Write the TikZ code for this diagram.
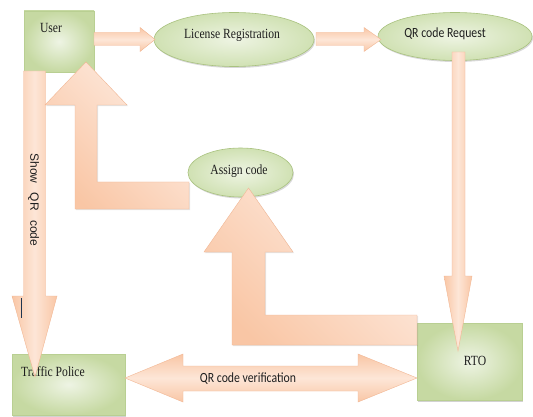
\documentclass[tikz,border=0pt]{standalone}
\usepackage{fontspec}
\setmainfont{Liberation Serif}
\newfontfamily\tnrfont[FakeStretch=0.83]{Liberation Serif}
\newfontfamily\calfont[FakeStretch=0.84]{Carlito}
\newfontfamily\arsfont{Liberation Sans}
\usetikzlibrary{shapes.geometric,shadows}
\definecolor{peach}{HTML}{F9C6A5}
\definecolor{peachl}{HTML}{FDE6D7}
\definecolor{peachxl}{HTML}{FEEDE3}
\definecolor{peachd}{HTML}{F2B794}
\definecolor{grn}{HTML}{C6D9A2}
\definecolor{grnl}{HTML}{EEF4E4}
\definecolor{grnline}{HTML}{B9CF92}
\definecolor{ell}{HTML}{D0E1B3}
\definecolor{elll}{HTML}{EEF4E3}
\definecolor{ellline}{HTML}{A9C27F}
\definecolor{txt}{HTML}{1E1E1E}
\definecolor{navy}{HTML}{1F3550}
\tikzset{
  greenbox/.style={rectangle, draw=grnline, line width=0.5pt, inner sep=0pt,
    inner color=grnl, outer color=grn,
    drop shadow={shadow xshift=1.2pt, shadow yshift=-1.5pt, opacity=0.35}},
  ellip/.style={ellipse, draw=ellline, line width=0.6pt, inner sep=0pt,
    inner color=elll, outer color=ell,
    drop shadow={shadow xshift=1pt, shadow yshift=-1.5pt, opacity=0.3}},
  barr/.style={draw=peachd, line width=0.4pt, top color=peachxl, bottom color=peach, shading angle=-45,
    drop shadow={shadow xshift=1pt, shadow yshift=-1.2pt, opacity=0.2}},
  varr/.style={draw=peachd, line width=0.4pt, left color=peach, right color=peach, middle color=peachl},
  harr/.style={draw=peachd, line width=0.4pt, top color=peach, bottom color=peach, middle color=peachl},
  serif/.style={font=\tnrfont\fontsize{14}{16}\selectfont, text=txt, inner sep=0pt},
  sans/.style={font=\calfont\fontsize{14}{16}\selectfont, text=txt, inner sep=0pt},
}
\begin{document}
\begin{tikzpicture}[x=1pt,y=-1pt]
\useasboundingbox (0,0) rectangle (533,417);
\fill[white] (0,0) rectangle (533,417);

% nodes
\node[greenbox, minimum width=70pt, minimum height=61pt] (user) at (59,41.5) {};
\node[greenbox, minimum width=113pt, minimum height=61pt] (tp) at (68.5,384.5) {};
\node[greenbox, minimum width=105pt, minimum height=77pt] (rto) at (469.5,361.5) {};
\node[ellip, minimum width=160pt, minimum height=54pt] (lr) at (234,39.5) {};
\node[ellip, minimum width=154pt, minimum height=48pt] (qr) at (455,36.5) {};
\node[ellip, minimum width=105pt, minimum height=49pt] (assign) at (240.5,172.5) {};

% labels
\node[serif] (usert) at (51,28) {User};
\node[serif] (tpt) at (53,372) {Traffic Police};
\node[serif] (rtot) at (475,361) {RTO};
\node[serif] (lrt) at (232,35) {License Registration};
\node[sans] (qrt) at (445,34) {QR code Request};
\node[serif] (assignt) at (239,171) {Assign code};

% User -> License Registration
\draw[harr] (94,32.5) -- (140,32.5) -- (140,27.5) -- (155,39.5) -- (140,51.5) -- (140,45.5) -- (94,45.5) -- cycle;
% License Registration -> QR code Request
\draw[harr] (316,32.5) -- (364,32.5) -- (364,27.5) -- (381,39.5) -- (364,51.5) -- (364,45.5) -- (316,45.5) -- cycle;
% QR code Request -> RTO
\draw[varr] (452,52) -- (465,52) -- (465,276) -- (472,276) -- (458,351) -- (444,276) -- (452,276) -- cycle;
% User -> Traffic Police (Show QR code)
\draw[varr] (23.5,71) -- (45.5,71) -- (45.5,296) -- (57,296) -- (35,377) -- (12,296) -- (23.5,296) -- cycle;
% Assign code -> User (bent)
\draw[barr] (189,182) -- (97,182) -- (97,105) -- (127,105) -- (86,62) -- (45,105) -- (75,105) -- (75,209) -- (189,209) -- cycle;
% RTO -> Assign code (bent)
\draw[barr] (417,315) -- (265,315) -- (265,252) -- (293,252) -- (248.5,188) -- (204,252) -- (232,252) -- (232,345) -- (417,345) -- cycle;
% Traffic Police <-> RTO
\draw[harr] (125,378) -- (183,354) -- (183,366) -- (358,366) -- (358,354) -- (417,378) -- (358,402) -- (358,391) -- (183,391) -- (183,402) -- cycle;

\node[sans] (qrv) at (248,379) {QR code verification};
\node[rotate=-90, font=\arsfont\fontsize{12}{14}\selectfont, text=txt, inner sep=0pt] (sqr) at (33.5,200) {Show\hspace{6pt} QR\hspace{6pt} code};

\coordinate (bar1) at (21.7,298);
\coordinate (bar2) at (21.7,318);
\draw[navy, line width=1.3pt] (bar1) -- (bar2);
\end{tikzpicture}
\end{document}
